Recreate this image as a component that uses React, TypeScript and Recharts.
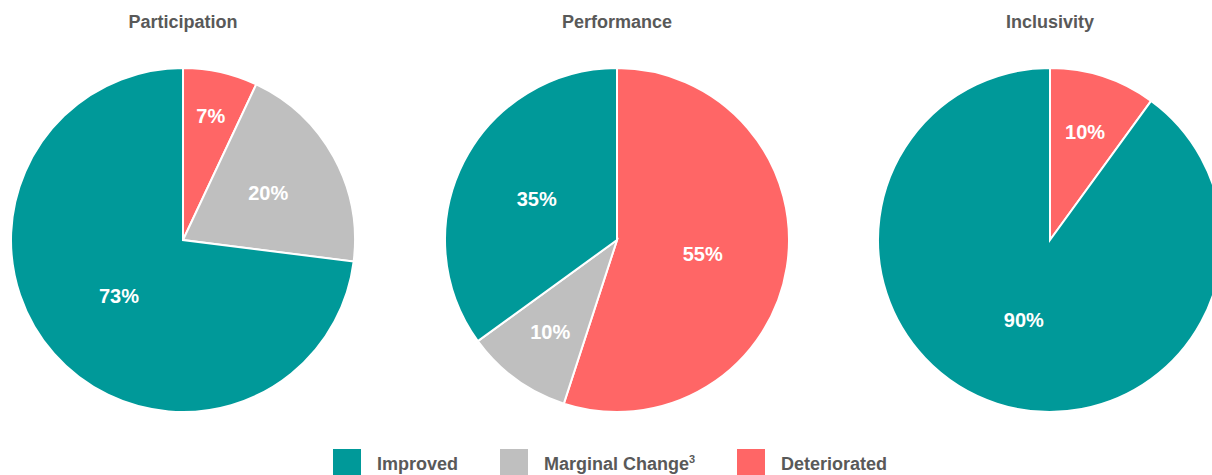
import { Legend, Pie, PieChart, Cell } from "recharts";

const titles = ["Participation", "Performance", "Inclusivity"];
const categories = ["Deteriorated", "Marginal Change", "Improved"];
const participation = [7, 20, 73];
const performance = [55, 10, 35];
const inclusivity = [10, 0, 90];
const legendOrder = ["Improved", "Marginal Change", "Deteriorated"];

const COLORS: Record<string, string> = {
  Improved: "#009999",
  "Marginal Change": "#BFBFBF",
  Deteriorated: "#FF6666",
};

const FONT = '"Liberation Sans", Arial, Helvetica, sans-serif';
const W = 1212;
const H = 475;
const CENTERS = [183, 617, 1050];
const CY = 240;
const R = 172;

const toRows = (vals: number[]) =>
  categories
    .map((name, i) => ({ name, value: vals[i] }))
    .filter((d) => d.value > 0);

const series = [participation, performance, inclusivity].map(toRows);

const RADIAN = Math.PI / 180;

// smaller slices push their label outward, like the original's best-fit
function renderLabel(props: any) {
  const { cx, cy, midAngle, outerRadius, percent, value } = props;
  const frac = Math.min(0.76, 0.47 + 0.019 / percent);
  const r = outerRadius * frac;
  const x = cx + r * Math.cos(-midAngle * RADIAN);
  const y = cy + r * Math.sin(-midAngle * RADIAN);
  return (
    <text
      x={x}
      y={y}
      fill="#fff"
      textAnchor="middle"
      dominantBaseline="central"
      fontFamily={FONT}
      fontWeight="bold"
      fontSize={20}
    >
      {value}%
    </text>
  );
}

function LegendContent() {
  return (
    <div
      style={{
        display: "flex",
        justifyContent: "center",
        gap: 42,
        fontFamily: FONT,
        fontWeight: "bold",
        fontSize: 18,
        color: "#595959",
        paddingLeft: 8,
      }}
    >
      {legendOrder.map((name) => (
        <div key={name} style={{ display: "flex", alignItems: "center", gap: 16 }}>
          <span style={{ width: 28, height: 28, background: COLORS[name], display: "inline-block" }} />
          <span style={{ marginTop: 2 }}>
            {name === "Marginal Change" ? (
              <>
                Marginal Change<sup style={{ fontSize: 11 }}>3</sup>
              </>
            ) : (
              name
            )}
          </span>
        </div>
      ))}
    </div>
  );
}

export default function App() {
  return (
    <div style={{ position: "absolute", left: 0, top: 0, width: W, height: H, overflow: "hidden", background: "#fff" }}>
      {titles.map((t, i) => (
        <div
          key={t}
          style={{
            position: "absolute",
            top: 12,
            left: CENTERS[i] - 100,
            width: 200,
            textAlign: "center",
            fontFamily: FONT,
            fontWeight: "bold",
            fontSize: 18,
            color: "#595959",
          }}
        >
          {t}
        </div>
      ))}
      <PieChart width={W} height={H} margin={{ top: 0, right: 0, bottom: 0, left: 0 }}>
        {series.map((rows, i) => (
          <Pie
            key={titles[i]}
            data={rows}
            dataKey="value"
            nameKey="name"
            cx={CENTERS[i]}
            cy={CY}
            outerRadius={R}
            startAngle={90}
            endAngle={-270}
            stroke="#fff"
            strokeWidth={2}
            label={renderLabel}
            labelLine={false}
            isAnimationActive={false}
          >
            {rows.map((d) => (
              <Cell key={d.name} fill={COLORS[d.name]} />
            ))}
          </Pie>
        ))}
        <Legend
          content={<LegendContent />}
          wrapperStyle={{ position: "absolute", left: 0, top: 449, width: W, bottom: "auto" }}
        />
      </PieChart>
    </div>
  );
}
